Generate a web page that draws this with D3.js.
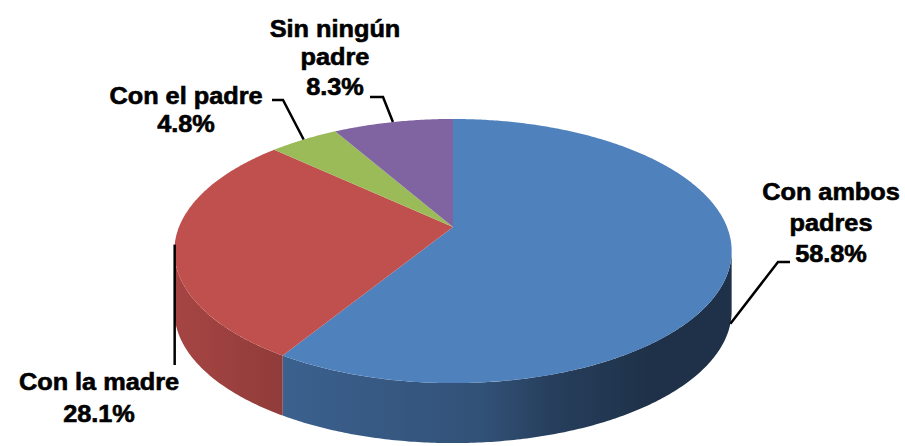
<!DOCTYPE html>
<html>
<head>
<meta charset="utf-8">
<script src="https://cdn.jsdelivr.net/npm/d3@7"></script>
<style>
  body { margin: 0; background: #fff; }
  text { font-family: "Liberation Sans", Arial, sans-serif; font-weight: bold; font-size: 23px; fill: #000; stroke: #000; stroke-width: 0.6px; }
</style>
</head>
<body>
<div id="chart"></div>
<script>
// datos
const categories = ["Con ambos padres", "Con la madre", "Con el padre", "Sin ningún padre"];
const values = [58.8, 28.1, 4.8, 8.3];
const colors = ["#4f81bd", "#c0504d", "#9bbb59", "#8064a2"];
const labelLines = [
  ["Con ambos", "padres", "58.8%"],
  ["Con la madre", "28.1%"],
  ["Con el padre", "4.8%"],
  ["Sin ningún", "padre", "8.3%"]
];

const width = 905, height = 446;
const svg = d3.select("#chart").append("svg")
  .attr("width", width)
  .attr("height", height);

// geometria del pastel 3D (perspectiva sencilla)
const cx = 453, cy = 227, rx = 274, ry = 127.7, k = 0.182, depth = 60;
function proj(a, dy = 0) {
  const d = 1 + k * Math.cos(a);
  return [cx + rx * Math.sin(a) / d, cy - ry * Math.cos(a) / d + dy];
}
function rim(a0, a1, dy) {
  const n = Math.max(2, Math.ceil((a1 - a0) / 0.01));
  return d3.range(n + 1).map(i => proj(a0 + (a1 - a0) * i / n, dy));
}
// bordes visibles del lado
const s1 = Math.acos(-k), s2 = 2 * Math.PI - s1;

const arcs = d3.pie().sort(null).value(d => d)(values);
const line = d3.line();

// degradados de los lados
const defs = svg.append("defs");
const shade = [[0, 0.4], [0.19, 0.8], [0.55, 1.3], [0.67, 2.0], [0.85, 2.7], [1, 2.7]];
arcs.forEach((a, i) => {
  const g = defs.append("linearGradient")
    .attr("id", "side" + i)
    .attr("gradientUnits", "userSpaceOnUse")
    .attr("x1", 175).attr("x2", 735).attr("y1", 0).attr("y2", 0);
  shade.forEach(s => g.append("stop")
    .attr("offset", s[0])
    .attr("stop-color", d3.color(colors[i]).darker(s[1])));
});

// lados
arcs.forEach((a, i) => {
  const lo = Math.max(a.startAngle, s1), hi = Math.min(a.endAngle, s2);
  if (hi <= lo) return;
  const pts = rim(lo, hi, 0).concat(rim(lo, hi, depth).reverse());
  svg.append("path")
    .attr("d", line(pts) + "Z")
    .attr("fill", "url(#side" + i + ")");
});

// caras superiores
arcs.forEach((a, i) => {
  const pts = [[cx, cy]].concat(rim(a.startAngle, a.endAngle, 0));
  svg.append("path")
    .attr("d", line(pts) + "Z")
    .attr("fill", colors[i]);
});

// lineas guia
const mid = a => (a.startAngle + a.endAngle) / 2;
const pBlue = proj(mid(arcs[0]), depth);
const pRed = proj(mid(arcs[1]));
const pGreen = proj(mid(arcs[2]));
const pPurple = proj(mid(arcs[3]));
const leaders = [
  [[790, 262], [778, 262], pBlue],
  [[pRed[0], 365], pRed],
  [[272, 100], [283, 100], pGreen],
  [[370, 97], [383, 97], pPurple]
];
leaders.forEach(l => svg.append("path")
  .attr("d", line(l))
  .attr("fill", "none")
  .attr("stroke", "#000")
  .attr("stroke-width", 2.5));

// etiquetas
const labelPos = [
  { x: 831, y: [200, 231, 262] },
  { x: 99, y: [390, 422] },
  { x: 186, y: [104, 132] },
  { x: 335, y: [37, 65, 95] }
];
labelLines.forEach((lines, i) => {
  lines.forEach((t, j) => {
    svg.append("text")
      .attr("transform", `translate(${labelPos[i].x},${labelPos[i].y[j]}) scale(1.1,1)`)
      .attr("text-anchor", "middle")
      .text(t);
  });
});
</script>
</body>
</html>
